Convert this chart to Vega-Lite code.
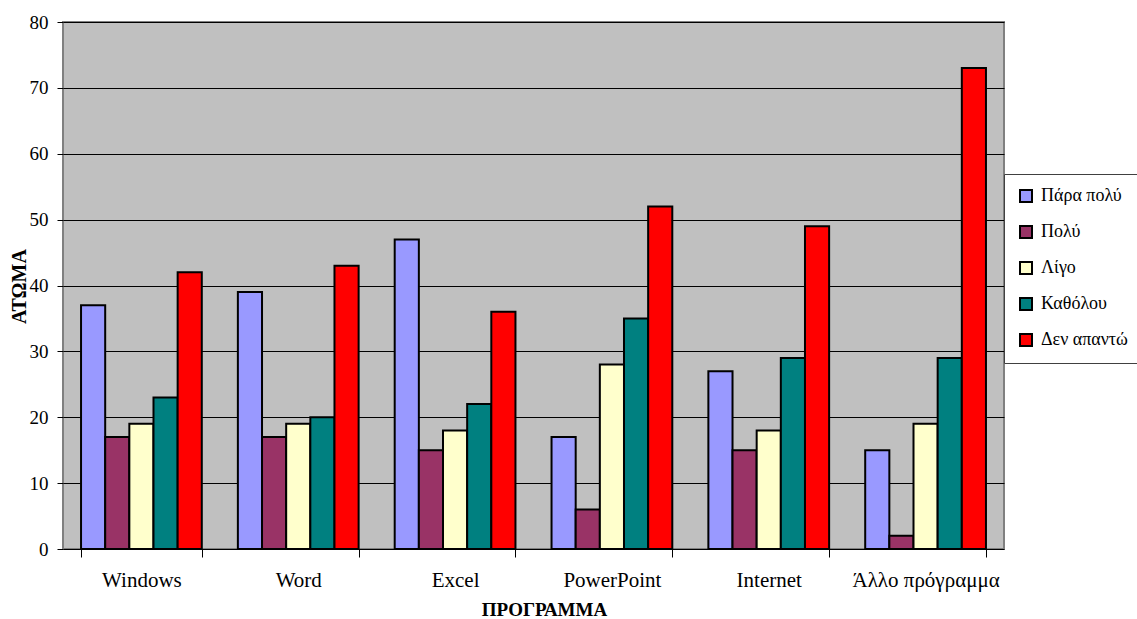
{
  "$schema": "https://vega.github.io/schema/vega-lite/v6.json",
  "width": 941,
  "height": 527,
  "autosize": {"type": "none"},
  "padding": {"left": 63, "top": 22, "right": 133, "bottom": 70},
  "background": "white",
  "config": {
    "font": "Liberation Serif",
    "view": {"fill": "#C0C0C0", "stroke": "#808080", "strokeWidth": 2}
  },
  "data": {
    "values": [
      {"program": "Windows", "response": "Πάρα πολύ", "value": 37},
      {"program": "Windows", "response": "Πολύ", "value": 17},
      {"program": "Windows", "response": "Λίγο", "value": 19},
      {"program": "Windows", "response": "Καθόλου", "value": 23},
      {"program": "Windows", "response": "Δεν απαντώ", "value": 42},
      {"program": "Word", "response": "Πάρα πολύ", "value": 39},
      {"program": "Word", "response": "Πολύ", "value": 17},
      {"program": "Word", "response": "Λίγο", "value": 19},
      {"program": "Word", "response": "Καθόλου", "value": 20},
      {"program": "Word", "response": "Δεν απαντώ", "value": 43},
      {"program": "Excel", "response": "Πάρα πολύ", "value": 47},
      {"program": "Excel", "response": "Πολύ", "value": 15},
      {"program": "Excel", "response": "Λίγο", "value": 18},
      {"program": "Excel", "response": "Καθόλου", "value": 22},
      {"program": "Excel", "response": "Δεν απαντώ", "value": 36},
      {"program": "PowerPoint", "response": "Πάρα πολύ", "value": 17},
      {"program": "PowerPoint", "response": "Πολύ", "value": 6},
      {"program": "PowerPoint", "response": "Λίγο", "value": 28},
      {"program": "PowerPoint", "response": "Καθόλου", "value": 35},
      {"program": "PowerPoint", "response": "Δεν απαντώ", "value": 52},
      {"program": "Internet", "response": "Πάρα πολύ", "value": 27},
      {"program": "Internet", "response": "Πολύ", "value": 15},
      {"program": "Internet", "response": "Λίγο", "value": 18},
      {"program": "Internet", "response": "Καθόλου", "value": 29},
      {"program": "Internet", "response": "Δεν απαντώ", "value": 49},
      {"program": "Άλλο πρόγραμμα", "response": "Πάρα πολύ", "value": 15},
      {"program": "Άλλο πρόγραμμα", "response": "Πολύ", "value": 2},
      {"program": "Άλλο πρόγραμμα", "response": "Λίγο", "value": 19},
      {"program": "Άλλο πρόγραμμα", "response": "Καθόλου", "value": 29},
      {"program": "Άλλο πρόγραμμα", "response": "Δεν απαντώ", "value": 73}
    ]
  },
  "mark": {"type": "bar", "stroke": "black", "strokeWidth": 2},
  "encoding": {
    "x": {
      "field": "program",
      "type": "nominal",
      "sort": ["Windows", "Word", "Excel", "PowerPoint", "Internet", "Άλλο πρόγραμμα"],
      "scale": {"paddingInner": 0.23, "paddingOuter": 0.115},
      "axis": {
        "title": "ΠΡΟΓΡΑΜΜΑ",
        "labelAngle": 0,
        "tickBand": "extent",
        "tickSize": 8,
        "tickColor": "black",
        "domain": false,
        "labelFontSize": 21,
        "labelColor": "black",
        "labelPadding": 12,
        "labelBaseline": "top",
        "titleFontSize": 19,
        "titleFontWeight": "bold",
        "titleColor": "black",
        "titleX": 481,
        "titleY": 66,
        "titleAlign": "center",
        "titleBaseline": "alphabetic"
      }
    },
    "xOffset": {
      "field": "response",
      "sort": ["Πάρα πολύ", "Πολύ", "Λίγο", "Καθόλου", "Δεν απαντώ"],
      "scale": {"paddingInner": 0, "paddingOuter": 0}
    },
    "y": {
      "field": "value",
      "type": "quantitative",
      "scale": {"domain": [0, 80], "nice": false},
      "axis": {
        "title": "ΑΤΩΜΑ",
        "values": [0, 10, 20, 30, 40, 50, 60, 70, 80],
        "grid": true,
        "gridColor": "black",
        "gridOpacity": 1,
        "gridWidth": 1,
        "domain": false,
        "tickColor": "black",
        "tickSize": 6,
        "labelFontSize": 19,
        "labelColor": "black",
        "labelPadding": 9,
        "titleFontSize": 20,
        "titleFontWeight": "bold",
        "titleColor": "black",
        "titleAngle": -90,
        "titleX": -38,
        "titleY": 264,
        "titleAlign": "center",
        "titleBaseline": "alphabetic"
      }
    },
    "color": {
      "field": "response",
      "type": "nominal",
      "scale": {
        "domain": ["Πάρα πολύ", "Πολύ", "Λίγο", "Καθόλου", "Δεν απαντώ"],
        "range": ["#9999FF", "#993366", "#FFFFCC", "#008080", "#FF0000"]
      },
      "legend": {
        "title": null,
        "orient": "none",
        "legendX": 941,
        "legendY": 152,
        "padding": 13,
        "fillColor": "white",
        "strokeColor": "#404040",
        "symbolType": "square",
        "symbolSize": 144,
        "symbolStrokeColor": "black",
        "symbolStrokeWidth": 2,
        "symbolOpacity": 1,
        "labelFontSize": 18,
        "labelColor": "black",
        "labelOffset": 6,
        "labelLimit": 300,
        "rowPadding": 16
      }
    }
  }
}
